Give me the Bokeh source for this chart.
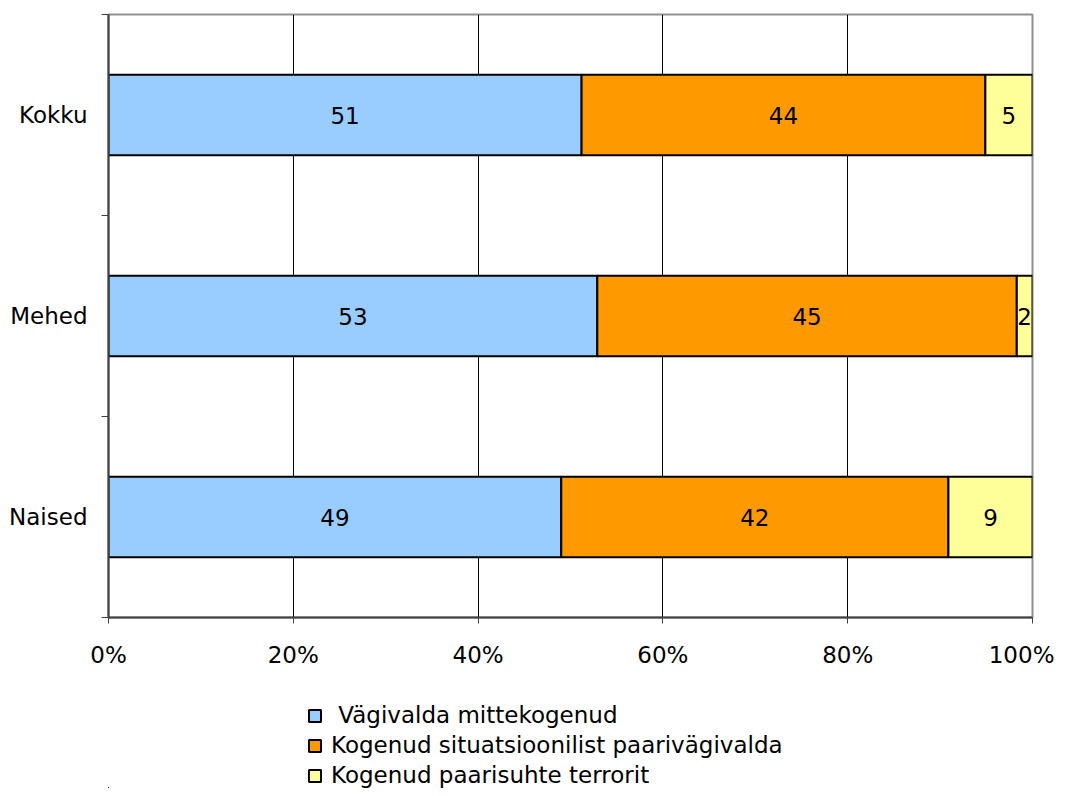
from bokeh.plotting import figure
from bokeh.models import ColumnDataSource, FixedTicker, Legend, LegendItem, Range1d
from bokeh.layouts import column
from bokeh.core.properties import value
from bokeh.embed import file_html
from bokeh.resources import INLINE

categories = ["Naised", "Mehed", "Kokku"]
series_names = ["\u00a0Vägivalda mittekogenud", "Kogenud situatsioonilist paarivägivalda", "Kogenud paarisuhte terrorit"]
not_experienced = [49.0, 52.9, 51.2]
situational = [41.9, 45.4, 43.7]
terror = [9.1, 1.7, 5.1]
labels_not = ["49", "53", "51"]
labels_sit = ["42", "45", "44"]
labels_ter = ["9", "2", "5"]
x_ticks = [0, 20, 40, 60, 80, 100]
x_tick_labels = ["0%", "20%", "40%", "60%", "80%", "100%"]

colors = ["#99CCFF", "#FF9900", "#FFFF99"]
FONT = "DejaVu Sans"
FS = "23px"

p = figure(width=1054, height=670, output_backend="svg", toolbar_location=None,
           x_range=Range1d(0, 100), y_range=Range1d(0, 3),
           min_border_left=108, min_border_right=22, min_border_top=14, min_border_bottom=52)

# legend figure below the chart (same data, drawn out of its visible range)
p2 = figure(width=1054, height=118, output_backend="svg", toolbar_location=None,
            x_range=Range1d(1000, 1001), y_range=Range1d(1000, 1001),
            x_axis_location=None, y_axis_location=None,
            min_border_left=108, min_border_right=22, min_border_top=0, min_border_bottom=0)
p2.grid.grid_line_color = None
p2.outline_line_color = None
p2.border_fill_color = "white"
p2.background_fill_color = "white"

ypos = [i + 0.5 for i in range(len(categories))]
series = [not_experienced, situational, terror]
labels = [labels_not, labels_sit, labels_ter]
left = [0.0] * len(categories)
items = []
for name, vals, labs, col in zip(series_names, series, labels, colors):
    right = [l + v for l, v in zip(left, vals)]
    mid = [(l + r) / 2 for l, r in zip(left, right)]
    src = ColumnDataSource(dict(y=ypos, left=left, right=right, mid=mid, lab=labs))
    p.hbar(y="y", left="left", right="right", height=0.4, source=src,
           fill_color=col, line_color="black", line_width=2)
    p.text(x="mid", y="y", text="lab", source=src, text_align="center", text_baseline="middle",
           text_font=value(FONT), text_font_size=FS, text_color="black")
    r2 = p2.hbar(y="y", left="left", right="right", height=0.4, source=src,
                 fill_color=col, line_color="black", line_width=2)
    items.append(LegendItem(label=name, renderers=[r2]))
    left = right

# axes
p.xaxis.ticker = FixedTicker(ticks=x_ticks)
p.xaxis.major_label_overrides = {t: l for t, l in zip(x_ticks, x_tick_labels)}
p.xaxis.major_label_text_font = FONT
p.xaxis.major_label_text_font_size = FS
p.xaxis.major_label_text_color = "black"
p.xaxis.major_label_standoff = 18
p.xaxis.major_tick_out = 6
p.xaxis.major_tick_in = 0
p.xaxis.minor_tick_line_color = None
p.xaxis.axis_line_color = "#404040"
p.xaxis.axis_line_width = 2
p.xaxis.major_tick_line_color = "#404040"

p.yaxis.ticker = FixedTicker(ticks=ypos, minor_ticks=[0, 1, 2, 3])
p.yaxis.major_label_overrides = {y: c for y, c in zip(ypos, categories)}
p.yaxis.major_label_text_font = FONT
p.yaxis.major_label_text_font_size = FS
p.yaxis.major_label_text_color = "black"
p.yaxis.major_tick_out = 0
p.yaxis.major_tick_in = 0
p.yaxis.major_label_standoff = 14
p.yaxis.minor_tick_out = 7
p.yaxis.minor_tick_in = 0
p.yaxis.minor_tick_line_color = "#404040"
p.yaxis.minor_tick_line_width = 1
p.yaxis.axis_line_color = "#404040"
p.yaxis.axis_line_width = 2

p.xgrid.ticker = FixedTicker(ticks=x_ticks)
p.xgrid.grid_line_color = "black"
p.xgrid.grid_line_width = 1
p.ygrid.grid_line_color = None
p.outline_line_color = "#909090"
p.outline_line_width = 2
p.background_fill_color = "white"
p.border_fill_color = "white"

legend = Legend(items=items, location=(199, 0), orientation="vertical",
                glyph_width=15, glyph_height=15, label_standoff=9, spacing=4,
                padding=0, margin=0, border_line_color=None, background_fill_alpha=0,
                label_text_font=FONT, label_text_font_size=FS, label_text_color="black")
p2.add_layout(legend, "center")

layout = column(p, p2, spacing=0)
open("out.html", "w").write(file_html(layout, INLINE))
